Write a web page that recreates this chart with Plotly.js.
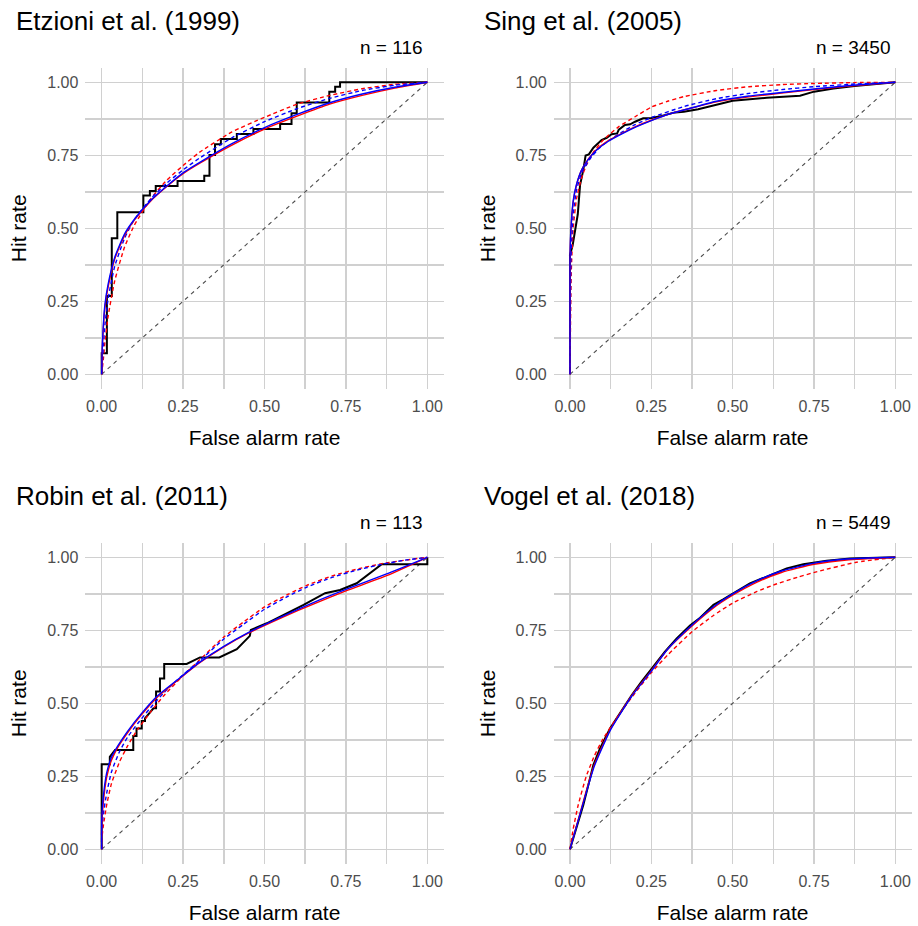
<!DOCTYPE html>
<html><head><meta charset="utf-8">
<script src="https://cdn.plot.ly/plotly-3.0.1.min.js"></script>
<style>html,body{margin:0;padding:0;background:#fff}</style>
</head><body><div id="chart" style="width:918px;height:926px"></div>
<script>
// ---------- labels ----------
const panelTitles = ["Etzioni et al. (1999)", "Sing et al. (2005)", "Robin et al. (2011)", "Vogel et al. (2018)"];
const panelN = ["n = 116", "n = 3450", "n = 113", "n = 5449"];
const tickValues = [0, 0.25, 0.5, 0.75, 1];
const tickLabels = ["0.00", "0.25", "0.50", "0.75", "1.00"];
const minorTickValues = [0.125, 0.375, 0.625, 0.875];
const xTitle = "False alarm rate";
const yTitle = "Hit rate";
const diagFar = [0, 1];
const diagHit = [0, 1];

// ---------- Etzioni et al. (1999) ----------
const etzEmpFar = [0,0,0.016,0.031,0.048,0.128,0.148,0.166,0.233,0.315,0.331,0.348,0.366,0.415,0.466,0.548,0.583,0.599,0.699,0.717,0.732,1.0];
const etzEmpHit = [0,0.072,0.268,0.466,0.555,0.612,0.628,0.645,0.662,0.680,0.751,0.788,0.806,0.823,0.840,0.857,0.894,0.931,0.968,0.985,1.0,1.0];
const etzSolidFar = [0,0.002,0.01,0.02,0.04,0.07,0.1,0.15,0.2,0.25,0.3,0.4,0.5,0.6,0.7,0.8,0.9,1];
const etzBlueSolidHit = [0,0.10,0.24,0.31,0.40,0.48,0.53,0.595,0.645,0.69,0.725,0.79,0.845,0.89,0.93,0.96,0.983,1];
const etzRedSolidHit  = [0,0.09,0.23,0.30,0.395,0.475,0.528,0.593,0.643,0.687,0.722,0.785,0.84,0.884,0.925,0.955,0.98,1];
const etzBlueDashFar = [0,0.003,0.01,0.02,0.04,0.07,0.1,0.15,0.2,0.25,0.3,0.4,0.5,0.6,0.7,0.8,0.9,1];
const etzBlueDashHit = [0,0.06,0.17,0.26,0.37,0.465,0.53,0.60,0.655,0.70,0.74,0.81,0.865,0.91,0.945,0.972,0.99,1];
const etzRedDashFar = [0,0.005,0.01,0.02,0.04,0.07,0.1,0.15,0.2,0.25,0.3,0.4,0.5,0.6,0.7,0.8,0.9,1];
const etzRedDashHit = [0,0.05,0.11,0.2,0.32,0.435,0.51,0.60,0.665,0.715,0.76,0.83,0.88,0.925,0.955,0.978,0.993,1];

// ---------- Sing et al. (2005) ----------
const singEmpFar = [0,0,0.008,0.015,0.024,0.031,0.041,0.048,0.058,0.072,0.082,0.097,0.113,0.128,0.145,0.15,0.169,0.185,0.2,0.225,0.25,0.282,0.323,0.35,0.394,0.436,0.47,0.5,0.605,0.707,0.75,0.81,0.875,0.943,1];
const singEmpHit = [0,0.409,0.44,0.491,0.548,0.648,0.70,0.749,0.753,0.776,0.787,0.802,0.81,0.822,0.825,0.838,0.854,0.856,0.865,0.877,0.878,0.885,0.897,0.899,0.908,0.92,0.93,0.937,0.947,0.954,0.968,0.979,0.987,0.993,1];
const singSolidFar = [0,0,0.003,0.01,0.02,0.036,0.056,0.082,0.118,0.164,0.205,0.25,0.31,0.37,0.45,0.55,0.65,0.75,0.86,1];
const singBlueSolidHit = [0,0.39,0.50,0.595,0.65,0.70,0.735,0.768,0.798,0.826,0.848,0.869,0.893,0.911,0.935,0.953,0.965,0.977,0.989,1];
const singRedSolidHit  = [0,0.38,0.49,0.59,0.648,0.70,0.737,0.77,0.80,0.828,0.85,0.87,0.893,0.911,0.933,0.95,0.963,0.975,0.987,1];
const singBlueDashFar = [0,0.003,0.01,0.02,0.036,0.06,0.09,0.125,0.165,0.2,0.25,0.35,0.45,0.55,0.65,0.75,0.875,1];
const singBlueDashHit = [0,0.40,0.55,0.63,0.69,0.735,0.775,0.805,0.833,0.855,0.879,0.917,0.944,0.962,0.975,0.985,0.994,1];
const singRedDashFar = [0,0.004,0.01,0.02,0.035,0.05,0.075,0.1,0.125,0.15,0.2,0.25,0.3,0.35,0.45,0.55,0.65,0.75,0.875,1];
const singRedDashHit = [0,0.35,0.50,0.60,0.67,0.715,0.765,0.80,0.825,0.848,0.882,0.915,0.935,0.951,0.972,0.985,0.992,0.996,0.999,1];

// ---------- Robin et al. (2011) ----------
const robEmpFar = [0,0,0.025,0.025,0.041,0.097,0.097,0.107,0.107,0.123,0.123,0.133,0.133,0.159,0.167,0.167,0.179,0.179,0.192,0.192,0.261,0.302,0.361,0.415,0.455,0.458,0.507,0.62,0.686,0.732,0.783,0.86,1,1];
const robEmpHit = [0,0.291,0.291,0.317,0.34,0.34,0.388,0.388,0.414,0.414,0.439,0.439,0.448,0.483,0.483,0.540,0.540,0.585,0.585,0.635,0.635,0.657,0.657,0.685,0.731,0.751,0.774,0.837,0.877,0.888,0.911,0.976,0.976,1];
const robSolidFar = [0,0,0.005,0.015,0.03,0.05,0.08,0.12,0.17,0.23,0.3,0.375,0.45,0.55,0.65,0.75,0.875,1];
const robBlueSolidHit = [0,0.10,0.18,0.26,0.315,0.355,0.405,0.462,0.524,0.578,0.64,0.695,0.742,0.795,0.845,0.89,0.943,1];
const robRedSolidHit  = [0,0.08,0.16,0.245,0.305,0.35,0.40,0.458,0.52,0.576,0.638,0.693,0.74,0.792,0.84,0.885,0.937,1];
const robDashFar = [0,0,0.005,0.015,0.03,0.055,0.08,0.11,0.15,0.19,0.25,0.3,0.375,0.435,0.5,0.57,0.63,0.71,0.79,0.86,0.93,1];
const robBlueDashHit = [0,0.06,0.12,0.19,0.265,0.335,0.385,0.43,0.485,0.535,0.598,0.645,0.72,0.77,0.822,0.865,0.898,0.932,0.958,0.976,0.99,1];
const robRedDashHit  = [0,0.03,0.08,0.15,0.225,0.30,0.355,0.41,0.47,0.525,0.595,0.648,0.727,0.778,0.83,0.872,0.904,0.937,0.961,0.978,0.99,1];

// ---------- Vogel et al. (2018) ----------
const vogEmpFar = [0,0.041,0.072,0.092,0.123,0.159,0.19,0.22,0.246,0.277,0.292,0.328,0.369,0.4,0.441,0.471,0.512,0.553,0.605,0.666,0.717,0.789,0.861,1];
const vogEmpHit = [0,0.152,0.289,0.345,0.414,0.477,0.528,0.574,0.61,0.654,0.677,0.722,0.766,0.793,0.837,0.856,0.885,0.911,0.934,0.962,0.976,0.988,0.996,1];
const vogSolidFar = [0,0.04,0.075,0.125,0.19,0.25,0.3,0.375,0.44,0.5,0.575,0.65,0.75,0.85,1];
const vogBlueSolidHit = [0,0.155,0.285,0.41,0.525,0.61,0.685,0.768,0.83,0.875,0.92,0.953,0.98,0.994,1];
const vogRedSolidHit  = [0,0.16,0.29,0.413,0.527,0.612,0.685,0.765,0.826,0.87,0.915,0.948,0.976,0.991,1];
const vogRedDashFar = [0,0.01,0.025,0.05,0.075,0.1,0.15,0.2,0.25,0.3,0.375,0.44,0.5,0.575,0.625,0.7,0.76,0.88,1];
const vogRedDashHit = [0,0.07,0.15,0.25,0.32,0.375,0.46,0.535,0.605,0.665,0.745,0.80,0.843,0.883,0.905,0.932,0.951,0.983,1];

// ---------- build ----------
const FONT = "Liberation Sans, Arial, Helvetica, sans-serif";
const RED = "#FF0000", BLUE = "#0000FF";
const GRID = "#d0d0d0";
const panels = [
  {emp:[etzEmpFar, etzEmpHit, "hv"], rd:[etzRedDashFar, etzRedDashHit], bd:[etzBlueDashFar, etzBlueDashHit], rs:[etzSolidFar, etzRedSolidHit], bs:[etzSolidFar, etzBlueSolidHit]},
  {emp:[singEmpFar, singEmpHit, "linear"], rd:[singRedDashFar, singRedDashHit], bd:[singBlueDashFar, singBlueDashHit], rs:[singSolidFar, singRedSolidHit], bs:[singSolidFar, singBlueSolidHit]},
  {emp:[robEmpFar, robEmpHit, "linear"], rd:[robDashFar, robRedDashHit], bd:[robDashFar, robBlueDashHit], rs:[robSolidFar, robRedSolidHit], bs:[robSolidFar, robBlueSolidHit]},
  {emp:[vogEmpFar, vogEmpHit, "linear"], rd:[vogRedDashFar, vogRedDashHit], bd:null, rs:[vogSolidFar, vogRedSolidHit], bs:[vogSolidFar, vogBlueSolidHit]}
];

const W = 918, H = 926;
const colDom = [[85.4/W, 443.6/W], [553.7/W, 911.6/W]];
const rowDom = [[1-388.9/H, 1-67.7/H], [1-863.9/H, 1-542.7/H]];
const colOff = [0, 468.3];
const rowOff = [0, 475];

const traces = [];
const layout = {
  width: W, height: H,
  margin: {l:0, r:0, t:0, b:0},
  paper_bgcolor: "#fff", plot_bgcolor: "#fff",
  showlegend: false,
  font: {family: FONT, color: "#000"},
  annotations: []
};

panels.forEach((p, i) => {
  const r = Math.floor(i/2), c = i % 2;
  const sfx = i === 0 ? "" : String(i+1);
  const xa = "x" + sfx, ya = "y" + sfx;
  const common = {xaxis: xa, yaxis: ya, mode: "lines", hoverinfo: "skip"};
  const sm = {shape: "spline", smoothing: 0.5};
  traces.push(Object.assign({x: diagFar, y: diagHit, line: {color: "#4d4d4d", width: 1.1, dash: "4px,4px"}}, common));
  traces.push(Object.assign({x: p.emp[0], y: p.emp[1], line: {color: "#000000", width: 2, shape: p.emp[2]}}, common));
  traces.push(Object.assign({x: p.rd[0], y: p.rd[1], line: Object.assign({color: RED, width: 1.4, dash: "4px,3px"}, sm)}, common));
  if (p.bd) traces.push(Object.assign({x: p.bd[0], y: p.bd[1], line: Object.assign({color: BLUE, width: 1.4, dash: "4px,3px"}, sm)}, common));
  traces.push(Object.assign({x: p.rs[0], y: p.rs[1], line: Object.assign({color: RED, width: 1.4}, sm)}, common));
  traces.push(Object.assign({x: p.bs[0], y: p.bs[1], line: Object.assign({color: BLUE, width: 1.4}, sm)}, common));

  const axBase = {
    range: [-0.05, 1.05], tickmode: "array", tickvals: tickValues, ticktext: tickLabels,
    showgrid: true, gridcolor: GRID, gridwidth: 1.5, zeroline: false, showline: false, ticks: "",
    minor: {tickmode: "array", tickvals: minorTickValues, showgrid: true, gridcolor: GRID, gridwidth: 1.5, ticks: ""},
    tickfont: {family: FONT, size: 16, color: "#4d4d4d"}, fixedrange: true
  };
  layout["xaxis" + sfx] = Object.assign({}, axBase, {domain: colDom[c], anchor: ya, ticklabelstandoff: 6,
    title: {text: xTitle, font: {family: FONT, size: 21, color: "#000"}, standoff: 16}});
  layout["yaxis" + sfx] = Object.assign({}, axBase, {domain: rowDom[r], anchor: xa, ticklabelstandoff: 6,
    title: {text: yTitle, font: {family: FONT, size: 21, color: "#000"}, standoff: 14}});

  layout.annotations.push({xref: "paper", yref: "paper", x: (14 + colOff[c])/W, y: 1 - (21 + rowOff[r])/H,
    xanchor: "left", yanchor: "middle", text: panelTitles[i], showarrow: false,
    font: {family: FONT, size: 26, color: "#000"}});
  layout.annotations.push({xref: "paper", yref: "paper", x: (425 + colOff[c])/W, y: 1 - (47 + rowOff[r])/H,
    xanchor: "right", yanchor: "middle", text: panelN[i], showarrow: false,
    font: {family: FONT, size: 19, color: "#000"}});
});

Plotly.newPlot("chart", traces, layout, {staticPlot: true, displayModeBar: false});
</script></body></html>
